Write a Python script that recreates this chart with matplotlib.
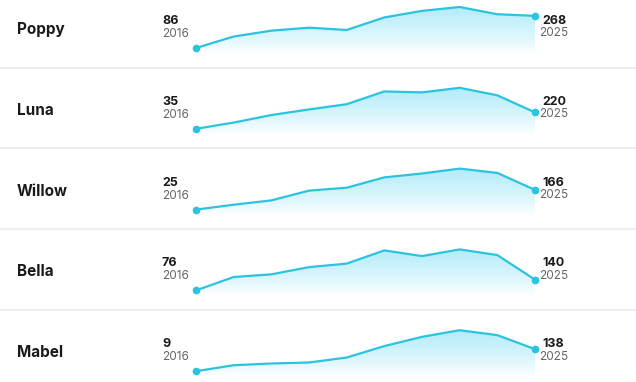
import numpy as np
import matplotlib
matplotlib.use("Agg")
import matplotlib.pyplot as plt
from matplotlib.colors import LinearSegmentedColormap

# Data
names = ["Poppy", "Luna", "Willow", "Bella", "Mabel"]
years = [2016, 2017, 2018, 2019, 2020, 2021, 2022, 2023, 2024, 2025]
poppy = [86, 151, 184, 201, 188, 259, 296, 318, 277, 268]
luna = [35, 105, 190, 253, 312, 456, 445, 497, 412, 220]
willow = [25, 60, 91, 161, 182, 256, 284, 319, 288, 166]
bella = [76, 156, 172, 215, 236, 315, 281, 321, 287, 140]
mabel = [9, 44, 54, 60, 89, 156, 210, 249, 220, 138]
series = [poppy, luna, willow, bella, mabel]

W, H = 636, 382
LINE = "#2cc3df"
FONT = ["Inter", "DejaVu Sans"]

fig = plt.figure(figsize=(W / 100, H / 100), dpi=100)
fig.patch.set_facecolor("white")

cmap = LinearSegmentedColormap.from_list("fade", ["#ffffff", "#b3ecfa"])

def fx(px):
    return px / W

def fy(py):
    return 1 - py / H

row_h = 80.8
x0, x1 = 196, 535
ax_top, ax_bot = 2, 60      # axes pixel extent inside a row
d_top, d_bot = 7, 48        # where max / min values sit
fade_end = 53               # fill is white below this

for i, (name, vals) in enumerate(zip(names, series)):
    top = i * row_h
    vmin, vmax = min(vals), max(vals)
    span = vmax - vmin
    ax = fig.add_axes([fx(x0), fy(top + ax_bot), fx(x1) - fx(x0),
                       (ax_bot - ax_top) / H])
    lo = vmin - (ax_bot - d_bot) / (d_bot - d_top) * span
    hi = vmax + (d_top - ax_top) / (d_bot - d_top) * span
    ax.set_xlim(years[0], years[-1])
    ax.set_ylim(lo, hi)
    ax.axis("off")

    # vertical fade, pixel rows from bottom to top
    px = np.linspace(ax_bot, ax_top, 256)
    t = np.clip((fade_end - px) / (fade_end - d_top), 0, 1) ** 0.8
    im = ax.imshow(t.reshape(-1, 1), aspect="auto", cmap=cmap, origin="lower",
                   vmin=0, vmax=1, extent=[years[0], years[-1], lo, hi],
                   zorder=1)
    poly = ax.fill_between(years, vals, lo, color="none", lw=0)
    im.set_clip_path(poly.get_paths()[0], transform=ax.transData)

    ax.plot(years, vals, color=LINE, lw=1.6, zorder=3, clip_on=False)
    ax.plot([years[0], years[-1]], [vals[0], vals[-1]], "o", color=LINE,
            ms=4.5, zorder=4, clip_on=False)

    # labels
    fig.text(fx(17), fy(top + 34), name, fontsize=11, fontweight="bold",
             color="#1a1a1a", va="baseline", ha="left", family=FONT)
    fig.text(fx(162), fy(top + 24), str(vals[0]), fontsize=9,
             fontweight="bold", color="#1a1a1a", va="baseline", family=FONT)
    fig.text(fx(162), fy(top + 37), str(years[0]), fontsize=8.5,
             color="#666666", va="baseline", family=FONT)
    fig.text(fx(542), fy(top + 24), str(vals[-1]), fontsize=9,
             fontweight="bold", color="#1a1a1a", va="baseline", family=FONT)
    fig.text(fx(539), fy(top + 36.5), str(years[-1]), fontsize=8.5,
             color="#666666", va="baseline", family=FONT)

    if i < len(names) - 1:
        fig.add_artist(plt.Line2D([0, 1], [fy(top + 67.5)] * 2,
                                  color="#ececec", lw=1.2))

fig.savefig("out.png", dpi=100, facecolor="white")
